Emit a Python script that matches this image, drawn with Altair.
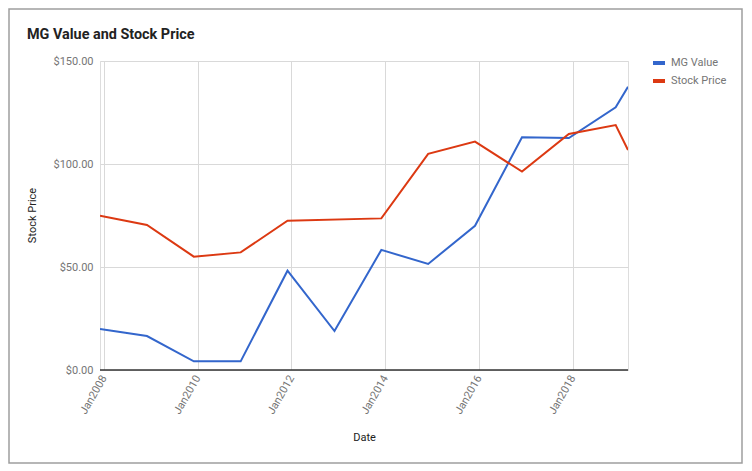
import altair as alt
import pandas as pd

dates = ["2007-12-01", "2008-12-01", "2009-12-01", "2010-12-01", "2011-12-01",
         "2012-12-01", "2013-12-01", "2014-12-01", "2015-12-01", "2016-12-01",
         "2017-12-01", "2018-12-01", "2019-03-07"]
mg_value = [19.9, 16.5, 4.2, 4.2, 48.2, 18.9, 58.3, 51.5, 70.0, 113.0, 112.6, 127.5, 137.5]
stock_price = [74.9, 70.4, 55.0, 57.1, 72.5, None, 73.6, 104.9, 110.9, 96.3, 114.6, 118.9, 106.8]
series_names = ["MG Value", "Stock Price"]
tick_years = [2008, 2010, 2012, 2014, 2016, 2018]
y_ticks = [0, 50, 100, 150]
chart_title = "MG Value and Stock Price"

rows = []
for d, v in zip(dates, mg_value):
    rows.append({"Date": d, "Series": series_names[0], "Value": v})
for d, v in zip(dates, stock_price):
    if v is None:
        continue
    rows.append({"Date": d, "Series": series_names[1], "Value": v})
df = pd.DataFrame(rows)
one = pd.DataFrame({"k": [0]})
span = pd.DataFrame({"start": [dates[0]], "end": [dates[-1]], "zero": [y_ticks[0]]})

FONT = "Roboto"
GRAY = "#757575"

x_enc = alt.X(
    "Date:T",
    scale=alt.Scale(type="utc"),
    axis=alt.Axis(
        title="Date",
        values=[alt.DateTime(year=y, month=1, date=1, utc=True) for y in tick_years],
        format="%b%Y",
        labelAngle=-60,
        labelAlign="right",
        labelBaseline="middle",
        labelPadding=6,
        labelColor=GRAY,
        labelFont=FONT,
        labelFontSize=11,
        ticks=False,
        domain=False,
        grid=True,
        gridColor="#d9d9d9",
        titleFont=FONT,
        titleFontSize=11,
        titleFontWeight="normal",
        titleColor="#222222",
        titleX=264,
        titleY=67,
        titleBaseline="middle",
    ),
)

y_enc = alt.Y(
    "Value:Q",
    scale=alt.Scale(domain=[0, 150], nice=False, zero=True),
    axis=alt.Axis(
        title="Stock Price",
        values=y_ticks,
        format="$,.2f",
        labelColor=GRAY,
        labelFont=FONT,
        labelFontSize=11,
        labelPadding=7,
        ticks=False,
        domain=False,
        grid=True,
        gridColor="#d9d9d9",
        titleFont=FONT,
        titleFontSize=11,
        titleFontWeight="normal",
        titleColor="#222222",
        titleX=-68,
        titleY=154,
        titleBaseline="middle",
    ),
)

lines = alt.Chart(df).mark_line(strokeWidth=2, clip=True).encode(
    x=x_enc,
    y=y_enc,
    color=alt.Color(
        "Series:N",
        scale=alt.Scale(domain=series_names, range=["#3366CC", "#DC3912"]),
        legend=alt.Legend(
            title=None,
            orient="none",
            legendX=551,
            legendY=-6,
            symbolType="stroke",
            symbolStrokeWidth=4,
            symbolSize=144,
            labelFont=FONT,
            labelFontSize=11,
            labelColor=GRAY,
            labelOffset=4,
            rowPadding=2,
        ),
    ),
)

baseline = alt.Chart(span).mark_rule(color="#333333", strokeWidth=1.5).encode(
    x="start:T", x2="end:T", y="zero:Q"
)

frame = alt.Chart(one).mark_rect(
    fill=None, stroke="#9e9e9e", strokeWidth=1.5
).encode(
    x=alt.value(-91), x2=alt.value(642), y=alt.value(-52), y2=alt.value(402)
)

title = alt.Chart(one).mark_text(
    text=chart_title, align="left", baseline="alphabetic",
    font=FONT, fontSize=14.4, fontWeight="bold", color="#222222"
).encode(x=alt.value(-73), y=alt.value(-22))

chart = alt.layer(frame, title, lines, baseline).properties(
    width=528,
    height=309,
    autosize=alt.AutoSizeParams(type="none"),
    padding={"left": 92, "top": 53, "right": 116, "bottom": 95},
).configure_view(stroke=None).configure(background="white")

chart.save("out.html", embed_options={"renderer": "svg", "actions": False})
